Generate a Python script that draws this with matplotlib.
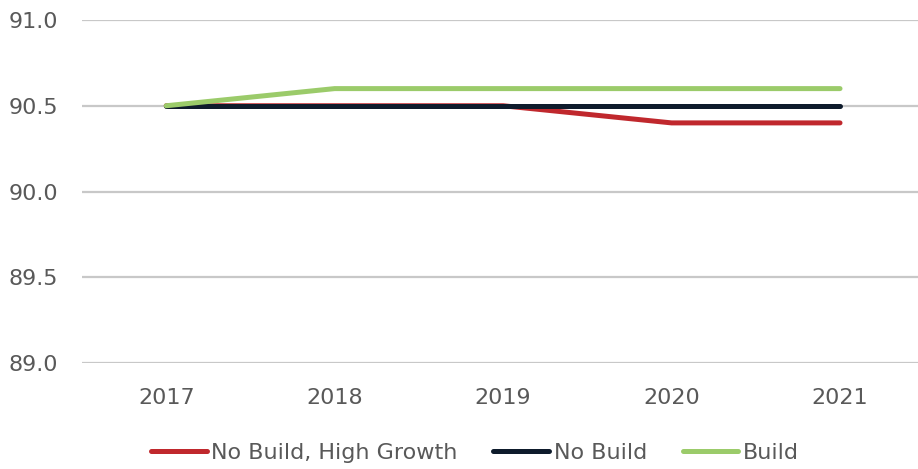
import matplotlib.pyplot as plt

years = ['2017', '2018', '2019', '2020', '2021']
high_growth = [90.5, 90.5, 90.5, 90.4, 90.4]
no_build = [90.5, 90.5, 90.5, 90.5, 90.5]
build = [90.5, 90.6, 90.6, 90.6, 90.6]
yticks = [89.0, 89.5, 90.0, 90.5, 91.0]

plt.rcParams['font.family'] = ['DejaVu Sans']

fig = plt.figure(figsize=(9.18, 4.69), dpi=100)
ax = fig.add_axes([82 / 918, 1 - 363 / 469, 1 - 82 / 918, (363 - 20) / 469])

x = range(len(years))
ax.plot(x, high_growth, color='#c0282d', lw=3.6, solid_capstyle='round', label='No Build, High Growth')
ax.plot(x, no_build, color='#0e1b2c', lw=3.6, solid_capstyle='round', label='No Build')
ax.plot(x, build, color='#9bcb6a', lw=3.6, solid_capstyle='round', label='Build')

ax.set_ylim(89.0, 91.0)
ax.set_yticks(yticks)
ax.set_yticklabels(['{:.1f}'.format(v) for v in yticks])
ax.set_xlim(-0.5, (918 - 166) / 168.5)
ax.set_xticks(list(x))
ax.set_xticklabels(years)

ax.grid(axis='y', color='#c8c8c8', lw=1.6)
ax.set_axisbelow(True)
for s in ax.spines.values():
    s.set_visible(False)
ax.tick_params(length=0, labelsize=16, labelcolor='#595959')
ax.tick_params(axis='x', pad=18)
ax.tick_params(axis='y', pad=17)

leg = fig.legend(loc='center', bbox_to_anchor=(475 / 918, 1 - 453 / 469), ncol=3,
                 frameon=False, fontsize=16, handlelength=2.5, handletextpad=0.22,
                 columnspacing=1.6, borderpad=0, borderaxespad=0)
for t in leg.get_texts():
    t.set_color('#595959')

fig.savefig('out.png', dpi=100)
